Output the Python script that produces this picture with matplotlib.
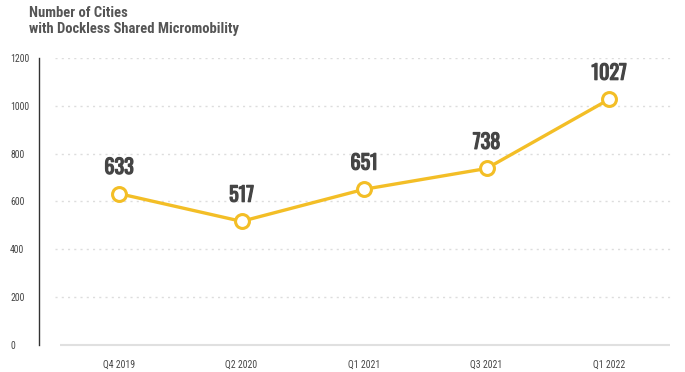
import matplotlib.pyplot as plt
import matplotlib.patheffects as pe
from matplotlib import font_manager

quarters = ["Q4 2019", "Q2 2020", "Q1 2021", "Q3 2021", "Q1 2022"]
cities = [633, 517, 651, 738, 1027]
y_ticks = [0, 200, 400, 600, 800, 1000, 1200]

names = {f.name for f in font_manager.fontManager.ttflist}
narrow = "Roboto Condensed" if "Roboto Condensed" in names else "DejaVu Sans"
tall = "Oswald" if "Oswald" in names else narrow

yellow = "#F3BE26"
text_dark = "#454545"
px = 72 / 100  # points per pixel at 100 dpi

fig = plt.figure(figsize=(6.85, 3.72), dpi=100)
ax = fig.add_axes([39 / 685, 1 - 345 / 372, 1 - 39 / 685, 287 / 372])

xs = range(len(quarters))
ax.set_xlim(-0.653, 4.62)
ax.set_ylim(0, 1200)

# dotted gridlines and light baseline
for y in y_ticks[1:]:
    ax.hlines(y, -0.52, 4.50, colors="#dddddd", linestyles=(0, (1.5, 3)), linewidth=1, zorder=1)
ax.hlines(0, -0.48, 4.50, colors="#e0e0e0", linewidth=1.5, zorder=1, clip_on=False)

ax.plot(xs, cities, color=yellow, linewidth=2.4, marker="o", markersize=10,
        markerfacecolor="white", markeredgecolor=yellow, markeredgewidth=2.2, zorder=3)

# value labels, thickened with a stroke since only the regular cut is installed
bold = [pe.withStroke(linewidth=0.9, foreground=text_dark)]
for x, v in zip(xs, cities):
    ax.annotate(str(v), (x, v), xytext=(0, 12), textcoords="offset points",
                ha="center", va="bottom", fontsize=14.5, fontweight="bold",
                color=text_dark, family=tall, path_effects=bold)

for s in ["top", "right", "bottom"]:
    ax.spines[s].set_visible(False)
ax.spines["left"].set_color("#333333")
ax.spines["left"].set_linewidth(1)

ax.set_yticks(y_ticks)
ax.set_yticklabels([str(t) for t in y_ticks], family=narrow, fontsize=7, color=text_dark, ha="left")
ax.tick_params(axis="y", length=0, pad=29 * px)

ax.set_xticks(list(xs))
ax.set_xticklabels(quarters, family=narrow, fontsize=7, color=text_dark)
ax.tick_params(axis="x", length=0, pad=15 * px)

fig.text(29 / 685, 1 - 6 / 372, "Number of Cities\nwith Dockless Shared Micromobility",
         ha="left", va="top", fontsize=10.5, fontweight="bold", color="#555555",
         family=narrow, linespacing=1.2)

fig.savefig("out.png", dpi=100)
